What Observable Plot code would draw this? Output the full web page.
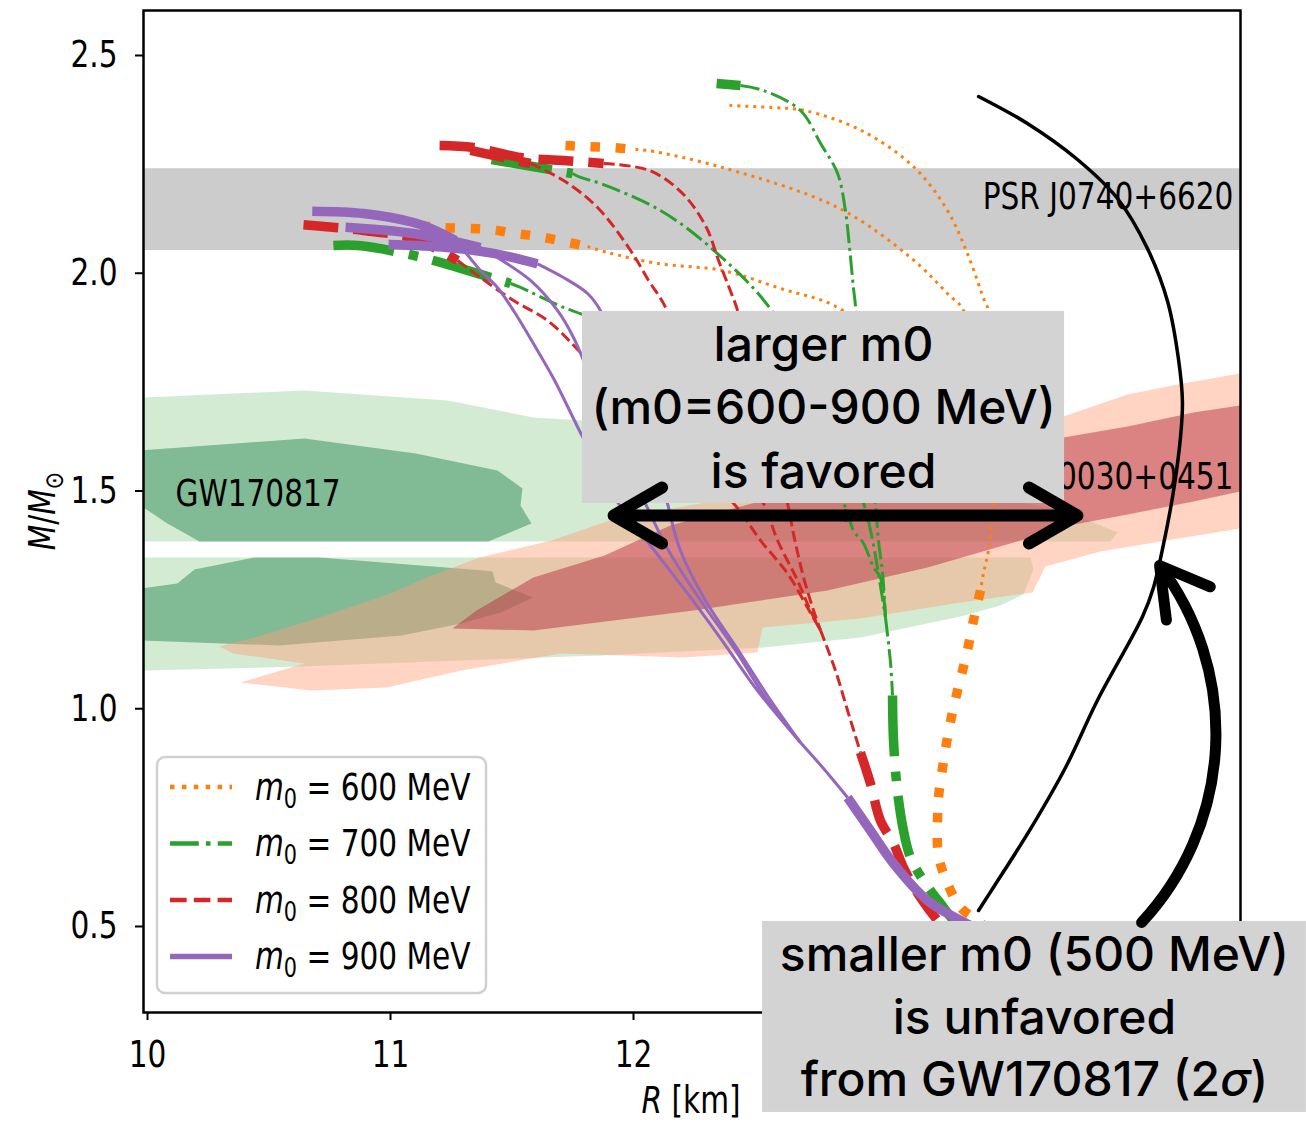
<!DOCTYPE html>
<html><head><meta charset="utf-8">
<script src="https://cdn.jsdelivr.net/npm/d3@7"></script>
<script src="https://cdn.jsdelivr.net/npm/@observablehq/plot@0.6"></script>
<style>
html,body{margin:0;padding:0;background:#fff;}
#chart svg{display:block;}
</style></head><body><div id="chart"></div>
<script>
// ---------------- DATA (R [km], M/Msun) ----------------
const xTicks = [10, 11, 12];
const yTicks = [0.5, 1.0, 1.5, 2.0, 2.5];
const m0Values = [600, 700, 800, 900];

// PSR J0740+6620 mass band
const psrJ0740 = [{lo: 2.052, hi: 2.240}];

// GW170817 regions (heavier and lighter component), outer / inner contours
const gwUpperOuter = [[9.930,1.7147],[9.984,1.7147],[10.646,1.7308],[11.235,1.7078],[11.588,1.6688],[11.794,1.6619],[12.276,1.6160],[12.893,1.5517],[13.428,1.4897],[13.774,1.4552],[13.992,1.4047],[13.963,1.3840],[9.930,1.3840]];
const gwUpperInner = [[9.930,1.5930],[9.971,1.5930],[10.646,1.6206],[11.103,1.5861],[11.440,1.5471],[11.543,1.5057],[11.535,1.4667],[11.580,1.4254],[11.403,1.3840],[10.214,1.3840],[10.082,1.4254],[9.971,1.4667],[9.930,1.4667]];
const gwLowerOuter = [[9.930,1.3473],[13.634,1.3473],[13.646,1.3198],[13.605,1.2624],[13.510,1.2371],[13.346,1.2118],[12.934,1.1636],[12.535,1.1406],[11.864,1.1223],[11.288,1.1108],[10.630,1.0970],[9.984,1.0878],[9.930,1.0878]];
const gwLowerInner = [[9.930,1.2761],[9.971,1.2761],[10.123,1.2876],[10.193,1.3198],[10.440,1.3473],[10.708,1.3473],[11.383,1.3175],[11.420,1.3152],[11.432,1.2899],[11.588,1.2555],[11.453,1.2210],[11.292,1.1958],[11.045,1.1682],[10.543,1.1452],[9.971,1.1567],[9.930,1.1567]];

// PSR J0030+0451 (NICER) regions
const nicerOuter = [[10.296,1.1429],[10.440,1.1636],[10.708,1.2095],[11.000,1.2647],[11.148,1.3014],[11.366,1.3473],[11.663,1.3863],[11.926,1.4369],[12.276,1.4713],[12.687,1.5241],[13.099,1.5746],[13.510,1.6320],[13.770,1.6711],[14.033,1.7216],[14.239,1.7445],[14.498,1.7698],[14.580,1.7767],[14.580,1.4208],[14.498,1.4139],[14.169,1.3840],[13.922,1.3611],[13.695,1.3266],[13.642,1.2670],[13.346,1.2440],[12.934,1.2072],[12.531,1.1866],[12.510,1.1292],[12.206,1.1177],[11.700,1.1269],[11.292,1.0878],[10.984,1.0488],[10.675,1.0419],[10.383,1.0603],[10.646,1.1039],[10.354,1.1269]];
const nicerInner = [[11.255,1.1843],[11.354,1.2256],[11.588,1.3014],[11.881,1.3519],[12.152,1.4208],[12.687,1.5011],[13.305,1.5700],[13.770,1.6228],[14.033,1.6481],[14.305,1.6803],[14.498,1.6963],[14.580,1.7032],[14.580,1.5057],[14.498,1.4989],[14.305,1.4759],[14.033,1.4461],[13.770,1.4185],[13.593,1.3863],[13.210,1.3244],[12.798,1.2716],[12.247,1.2256],[11.588,1.1797]];

// m0 = 600 MeV curves
const m600_1_upper = [[11.123,2.1096],[11.214,2.1051],[11.317,2.1028],[11.412,2.1005],[11.514,2.0913],[11.609,2.0844],[11.712,2.0729],[11.811,2.0614]];
const m600_1_middle = [[11.811,2.0614],[11.893,2.0477],[12.099,2.0224],[12.366,2.0063],[12.605,1.9650],[12.840,1.9214],[13.099,1.7997],[13.305,1.6619],[13.428,1.5471],[13.481,1.4713]];
const m600_2_upper = [[11.720,2.2933],[11.802,2.2910],[11.905,2.2887],[12.008,2.2842]];
const m600_2_middle = [[12.008,2.2842],[12.058,2.2819],[12.366,2.2428],[12.840,2.1510],[13.140,2.0362],[13.292,1.9535],[13.358,1.9145],[13.428,1.7078],[13.469,1.5700],[13.481,1.4713]];
const m600_3_upper = [];
const m600_3_middle = [[12.395,2.3852],[12.568,2.3806],[12.704,2.3737],[12.938,2.3278],[13.156,2.2428],[13.292,2.1441],[13.374,2.0455],[13.444,1.9374],[13.461,1.9145],[13.490,1.7078],[13.494,1.5700],[13.481,1.4713]];
const m600_tail_middle = [[13.481,1.4713],[13.461,1.3634],[13.440,1.3106],[13.428,1.2715]];
const m600_tail_lower = [[13.428,1.2715],[13.399,1.2026],[13.374,1.1338],[13.346,1.0695],[13.317,1.0029],[13.292,0.9340],[13.272,0.8651],[13.255,0.7962],[13.251,0.7319],[13.255,0.6630],[13.292,0.5987],[13.346,0.5436],[13.416,0.5138],[13.490,0.4793]];

// m0 = 700 MeV curves
const m700_1_upper = [[10.765,2.0637],[10.868,2.0637],[11.095,2.0408],[11.276,2.0132],[11.494,1.9765]];
const m700_1_middle = [[11.494,1.9765],[11.535,1.9673],[11.712,1.9214],[11.790,1.9053],[12.070,1.8341],[12.399,1.7193],[12.687,1.5815],[12.864,1.4713],[12.905,1.4093],[12.947,1.3795],[12.988,1.3244],[13.016,1.3014],[13.037,1.2095]];
const m700_2_upper = [[11.416,2.2612],[11.514,2.2520],[11.749,2.2290]];
const m700_2_middle = [[11.749,2.2290],[11.782,2.2199],[11.864,2.2061],[12.111,2.1441],[12.317,2.0591],[12.568,1.9145],[12.728,1.7308],[12.852,1.5930],[12.947,1.4713],[12.984,1.3863],[13.008,1.3106],[13.037,1.2095]];
const m700_3_upper = [[12.342,2.4357],[12.440,2.4311]];
const m700_3_middle = [[12.440,2.4311],[12.535,2.4196],[12.687,2.3737],[12.770,2.2979],[12.840,2.2290],[12.872,2.1441],[12.889,2.0591],[12.905,1.9673],[12.914,1.9214],[12.934,1.7078],[12.975,1.5471],[12.996,1.4713],[13.008,1.3863],[13.025,1.3106],[13.037,1.2095]];
const m700_tail_middle = [[13.037,1.2095],[13.058,1.1039],[13.066,1.0304]];
const m700_tail_lower = [[13.066,1.0304],[13.070,0.9271],[13.086,0.8123],[13.111,0.7205],[13.140,0.6584],[13.193,0.6056],[13.276,0.5436],[13.317,0.5138],[13.387,0.4679]];

// m0 = 800 MeV curves
const m800_1_upper = [[10.642,2.1113],[10.889,2.0982],[11.095,2.0798],[11.276,2.0293]];
const m800_1_middle = [[11.276,2.0293],[11.370,1.9902],[11.506,1.9374],[11.646,1.8915],[11.782,1.8180],[11.946,1.7193],[12.193,1.5815],[12.412,1.4713],[12.523,1.3863],[12.634,1.3106],[12.716,1.2325],[12.770,1.1797]];
const m800_2_upper = [[11.202,2.2933],[11.342,2.2887],[11.535,2.2658],[11.712,2.2589],[11.877,2.2520]];
const m800_2_middle = [[11.877,2.2520],[12.066,2.2359],[12.202,2.1831],[12.300,2.1051],[12.350,2.0293],[12.403,1.9535],[12.428,1.9145],[12.481,1.7537],[12.564,1.5930],[12.634,1.4713],[12.658,1.4024],[12.700,1.3014],[12.741,1.2256],[12.770,1.1797]];
const m800_3_upper = [[11.329,2.2819],[11.576,2.2520]];
const m800_3_middle = [[11.576,2.2520],[11.712,2.2130],[11.852,2.1510],[11.988,2.0522],[12.062,1.9834],[12.132,1.9214],[12.235,1.7537],[12.399,1.5930],[12.535,1.4713],[12.593,1.3863],[12.675,1.2945],[12.728,1.2256],[12.770,1.1797]];
const m800_tail_middle = [[12.770,1.1797],[12.831,1.0878],[12.881,0.9960],[12.934,0.8995]];
const m800_tail_lower = [[12.934,0.8995],[12.975,0.8284],[13.016,0.7434],[13.070,0.6906],[13.111,0.6355],[13.181,0.5666],[13.251,0.5138],[13.325,0.4679]];

// m0 = 900 MeV curves
const m900_1_upper = [[10.678,2.1425],[10.889,2.1372],[11.095,2.1165],[11.165,2.1028],[11.267,2.0752]];
const m900_1_middle = [[11.267,2.0752],[11.329,2.0339],[11.370,2.0063],[11.440,1.9673],[11.506,1.9145],[11.588,1.8387],[11.671,1.7583],[11.794,1.6206],[11.938,1.4713],[12.070,1.3749],[12.235,1.2555],[12.379,1.1452],[12.510,1.0419],[12.687,0.9225]];
const m900_2_upper = [[10.815,2.1057],[11.095,2.0913],[11.370,2.0591]];
const m900_2_middle = [[11.370,2.0591],[11.440,2.0362],[11.576,1.9834],[11.687,1.9145],[11.753,1.8525],[11.794,1.7997],[11.885,1.6619],[11.988,1.5471],[12.049,1.4713],[12.144,1.3634],[12.276,1.2486],[12.420,1.1338],[12.543,1.0258],[12.687,0.9225]];
const m900_3_upper = [[10.992,2.0660],[11.235,2.0591],[11.424,2.0455],[11.605,2.0217]];
const m900_3_middle = [[11.605,2.0217],[11.712,1.9902],[11.811,1.9535],[11.864,1.9145],[11.988,1.7537],[12.091,1.5930],[12.140,1.4713],[12.193,1.3634],[12.296,1.2486],[12.432,1.1338],[12.551,1.0304],[12.687,0.9225]];
const m900_tail_middle = [[12.687,0.9225],[12.782,0.8628],[12.881,0.7962]];
const m900_tail_lower = [[12.881,0.7962],[12.975,0.7205],[13.070,0.6447],[13.210,0.5597],[13.346,0.5138],[13.469,0.4793]];

// m0 = 500 MeV curve
const m500 = [[13.420,2.4059],[13.621,2.3439],[13.827,2.2612],[13.992,2.1716],[14.115,2.0568],[14.198,1.9351],[14.243,1.8020],[14.259,1.7055],[14.251,1.6229],[14.222,1.4989],[14.181,1.3772],[14.140,1.2784],[14.095,1.2118],[13.909,1.0190],[13.778,0.8651],[13.630,0.7205],[13.481,0.5896],[13.420,0.5367]];

// Region labels
const labelsLeft = [{x: 10.115, y: 1.492, text: "GW170817"}];
const labelsRight = [
  {x: 14.469, y: 2.174, text: "PSR J0740+6620"},
  {x: 14.469, y: 1.531, text: "PSR J0030+0451"}
];

// Annotations
const noteBoxes = [
  {x1: 11.790, x2: 13.774, y1: 1.4713, y2: 1.9122},
  {x1: 12.531, x2: 14.769, y1: 0.0730, y2: 0.5115}
];
const noteLines = [
  {x: 12.782, y: 1.8341, text: "larger m0"},
  {x: 12.782, y: 1.6894, text: "(m0=600-900 MeV)"},
  {x: 12.782, y: 1.5425, text: "is favored"},
  {x: 13.650, y: 0.4334, text: "smaller m0 (500 MeV)"},
  {x: 13.650, y: 0.2888, text: "is unfavored"},
  {x: 13.650, y: 0.1464, text: "from GW170817 (2σ)"}
];
const straightArrows = [
  {x1: 12.872, y1: 1.4437, x2: 11.918, y2: 1.4437},
  {x1: 12.872, y1: 1.4437, x2: 13.827, y2: 1.4437}
];
const curvedArrows = [{x1: 14.091, y1: 0.5092, x2: 14.165, y2: 1.3290}];

// ---------------- DRAWING ----------------
const colors = {600: "#ff7f0e", 700: "#2ca02c", 800: "#d62728", 900: "#9467bd"};
const thinW = 3, thickW = 9.5;
const dashes = {
  600: ["3,4.95", "9.5,15.7"],
  700: ["19.2,4.8,3,4.8", "61,15,9.5,15"],
  800: ["11.1,4.8", "35,15"],
  900: [null, null]
};
const px = d => d[0], py = d => d[1];
const poly = (pts, fill, op) => Plot.line(pts, {x: px, y: py, fill, fillOpacity: op, stroke: "none", clip: true});
const seg = (pts, m0, thick) => Plot.line(pts, {
  x: px, y: py, stroke: colors[m0], strokeWidth: thick ? thickW : thinW,
  strokeDasharray: dashes[m0][thick ? 1 : 0] || undefined,
  strokeLinecap: "butt", strokeLinejoin: "round", curve: "catmull-rom", clip: true
});
const groups = {
  600: [[m600_1_upper, m600_1_middle], [m600_2_upper, m600_2_middle], [m600_3_upper, m600_3_middle], [m600_tail_lower, m600_tail_middle]],
  700: [[m700_1_upper, m700_1_middle], [m700_2_upper, m700_2_middle], [m700_3_upper, m700_3_middle], [m700_tail_lower, m700_tail_middle]],
  800: [[m800_1_upper, m800_1_middle], [m800_2_upper, m800_2_middle], [m800_3_upper, m800_3_middle], [m800_tail_lower, m800_tail_middle]],
  900: [[m900_1_upper, m900_1_middle], [m900_2_upper, m900_2_middle], [m900_3_upper, m900_3_middle], [m900_tail_lower, m900_tail_middle]]
};
const curveMarks = [];
for (const m0 of m0Values) {
  for (const [thick, thin] of groups[m0]) {
    curveMarks.push(seg(thin, m0, false));
    if (thick.length) curveMarks.push(seg(thick, m0, true));
  }
}

const plot = Plot.plot({
  width: 1306, height: 1123,
  marginLeft: 143, marginRight: 66, marginTop: 10, marginBottom: 111,
  style: {fontFamily: "DejaVu Sans", fontSize: "37px", background: "white", color: "black", overflow: "visible"},
  x: {domain: [9.9835, 14.498]},
  y: {domain: [0.3025, 2.6033]},
  marks: [
    poly(gwUpperOuter, "#2ca02c", 0.21),
    poly(gwLowerOuter, "#2ca02c", 0.21),
    poly(gwUpperInner, "#2e8b57", 0.5),
    poly(gwLowerInner, "#2e8b57", 0.5),
    poly(nicerOuter, "#ffa07a", 0.45),
    poly(nicerInner, "#b63242", 0.5),
    Plot.rect(psrJ0740, {y1: "lo", y2: "hi", fill: "#cccccc"}),
    ...curveMarks,
    Plot.text(labelsLeft, {x: "x", y: "y", text: "text", textAnchor: "start", lineAnchor: "middle", fill: "black"}),
    Plot.text(labelsRight, {x: "x", y: "y", text: "text", textAnchor: "end", lineAnchor: "middle", fill: "black"}),
    Plot.line(m500, {x: px, y: py, stroke: "black", strokeWidth: 3.5, curve: "catmull-rom", clip: true}),
    Plot.axisX({ticks: xTicks, tickSize: 8, tickPadding: 20, strokeWidth: 2, label: null, tickFormat: d => String(d)}),
    Plot.axisY({ticks: yTicks, tickSize: 8, tickPadding: 18, strokeWidth: 2, label: null, tickFormat: d3.format(".1f")}),
    Plot.frame({stroke: "black", strokeWidth: 2.5}),
    Plot.rect(noteBoxes, {x1: "x1", x2: "x2", y1: "y1", y2: "y2", fill: "#d3d3d3"}),
    Plot.text(noteLines, {x: "x", y: "y", text: "text", fontFamily: "Inter", fontSize: 48, fontWeight: 500, textAnchor: "middle", lineAnchor: "middle", fill: "black"}),
    Plot.arrow(straightArrows, {x1: "x1", y1: "y1", x2: "x2", y2: "y2", stroke: "black", strokeWidth: 12, headLength: 7, headAngle: 60}),
    Plot.arrow(curvedArrows, {x1: "x1", y1: "y1", x2: "x2", y2: "y2", stroke: "black", strokeWidth: 11, headLength: 7.5, headAngle: 60, bend: -40})
  ]
});
document.getElementById("chart").appendChild(plot);

const svg = d3.select(plot);
const SX = 0.8;
// italic sigma in the annotation
svg.selectAll("text").each(function() {
  if (this.textContent === "from GW170817 (2σ)") {
    d3.select(this).html('from GW170817 (2<tspan font-style="italic">σ</tspan>)');
  }
});
// axis labels
svg.append("text").attr("transform", `translate(691,1100) scale(${SX},1)`)
  .attr("text-anchor", "middle").attr("dy", "0.35em").attr("font-size", 37).attr("fill", "black")
  .html('<tspan font-style="italic">R</tspan> [km]').attr("data-done", 1);
svg.append("text").attr("transform", `translate(42,511) rotate(-90) scale(${SX},1)`)
  .attr("text-anchor", "middle").attr("dy", "0.35em").attr("font-size", 37).attr("fill", "black")
  .html('<tspan font-style="italic">M</tspan>/<tspan font-style="italic">M</tspan><tspan font-size="26" dy="8">⊙</tspan>').attr("data-done", 1);

// legend
const legendDash = {600: "4.5,7.4", 700: "28.8,7.2,4.5,7.2", 800: "16.6,7.2", 900: null};
const lg = svg.append("g");
lg.append("rect").attr("x", 157).attr("y", 757).attr("width", 329).attr("height", 236).attr("rx", 8)
  .attr("fill", "white").attr("fill-opacity", 0.8).attr("stroke", "#d0d0d0").attr("stroke-width", 2.5);
m0Values.forEach((m0, i) => {
  const y = 787 + i * 56.5;
  lg.append("line").attr("x1", 170).attr("x2", 232).attr("y1", y).attr("y2", y)
    .attr("stroke", colors[m0]).attr("stroke-width", m0 === 900 ? 5.5 : 4.5)
    .attr("stroke-dasharray", legendDash[m0]);
  lg.append("text").attr("transform", `translate(255,${y}) scale(${SX},1)`).attr("dy", "0.35em")
    .attr("text-anchor", "start")
    .attr("font-size", 37).attr("fill", "black").attr("data-done", 1)
    .html(`<tspan font-style="italic">m</tspan><tspan font-size="26" dy="8">0</tspan><tspan dy="-8"> = ${m0} MeV</tspan>`);
});

// condense the matplotlib-like DejaVu texts
svg.selectAll("text").each(function() {
  if (this.getAttribute("data-done")) return;
  const ff = getComputedStyle(this).fontFamily || "";
  if (!ff.includes("DejaVu")) return;
  let t = this.getAttribute("transform") || "";
  const xa = this.getAttribute("x");
  if (xa && !xa.includes("em") && parseFloat(xa) !== 0) { t += ` translate(${xa},0)`; this.removeAttribute("x"); }
  this.setAttribute("transform", (t + ` scale(${SX},1)`).trim());
});
</script></body></html>
